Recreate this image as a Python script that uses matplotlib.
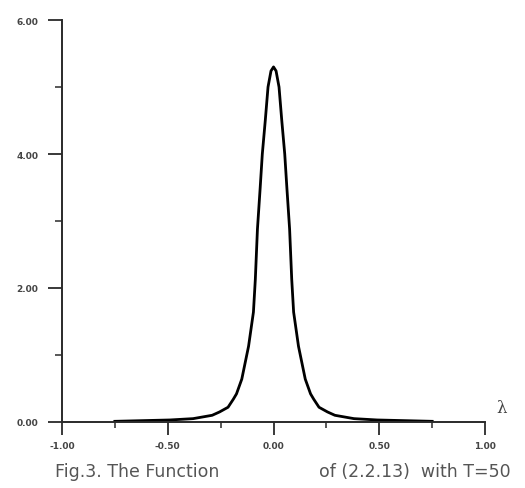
import matplotlib
matplotlib.use('Agg')
import matplotlib.pyplot as plt
from matplotlib.ticker import FixedLocator

# ── data ─────────────────────────────────────────────────────────────────
LAMBDA = [-0.75, -0.49, -0.38, -0.29, -0.255, -0.215, -0.19, -0.175,
          -0.150, -0.118, -0.095, -0.086, -0.076, -0.063, -0.053,
          -0.039, -0.026, -0.012, 0.0,
          0.012, 0.026, 0.039, 0.053, 0.063, 0.076, 0.086, 0.095, 0.118,
          0.150, 0.175, 0.19, 0.215, 0.255, 0.29, 0.38, 0.49, 0.75]
F_VALUES = [0.01, 0.03, 0.05, 0.10, 0.15, 0.22, 0.34, 0.42,
            0.64, 1.13, 1.64, 2.13, 2.88, 3.50, 4.00,
            4.50, 5.00, 5.24, 5.30,
            5.24, 5.00, 4.50, 4.00, 3.50, 2.88, 2.13, 1.64, 1.13,
            0.64, 0.42, 0.34, 0.22, 0.15, 0.10, 0.05, 0.03, 0.01]

X_MAJOR = [-1.0, -0.5, 0.0, 0.5, 1.0]
X_MINOR = [-0.75, -0.25, 0.25, 0.75]
Y_MAJOR = [0.0, 2.0, 4.0, 6.0]
Y_MINOR = [1.0, 3.0, 5.0]
CAPTION_LEFT = "Fig.3. The Function"
CAPTION_RIGHT = "of (2.2.13)  with T=50"
# ────────────────────────────────────────────────────────────────────────

AX_COL = "#2a2a2a"
TXT_COL = "#444444"

fig = plt.figure(figsize=(5.25, 4.89), dpi=100)
ax = fig.add_axes([0.118, 0.135, 0.806, 0.822])

ax.plot(LAMBDA, F_VALUES, color="black", linewidth=2.0,
        solid_joinstyle="round")

ax.set_xlim(-1.0, 1.0)
ax.set_ylim(0.0, 6.0)

for side in ("top", "right"):
    ax.spines[side].set_visible(False)
for side in ("left", "bottom"):
    ax.spines[side].set_color(AX_COL)
    ax.spines[side].set_linewidth(1.4)

ax.xaxis.set_major_locator(FixedLocator(X_MAJOR))
ax.xaxis.set_minor_locator(FixedLocator(X_MINOR))
ax.yaxis.set_major_locator(FixedLocator(Y_MAJOR))
ax.yaxis.set_minor_locator(FixedLocator(Y_MINOR))
ax.set_xticklabels([f"{v:.2f}" for v in X_MAJOR])
ax.set_yticklabels([f"{v:.2f}" for v in Y_MAJOR])

ax.tick_params(axis="x", which="major", direction="out", length=9,
               width=1.3, color=AX_COL, labelsize=6.5, labelcolor=TXT_COL, pad=5)
ax.tick_params(axis="x", which="minor", direction="out", length=4.5,
               width=1.1, color=AX_COL)
ax.tick_params(axis="y", which="major", direction="out", length=10,
               width=1.3, color=AX_COL, labelsize=6.5, labelcolor=TXT_COL, pad=7)
ax.tick_params(axis="y", which="minor", direction="out", length=5,
               width=1.1, color=AX_COL)

for lab in ax.get_xticklabels() + ax.get_yticklabels():
    lab.set_fontweight("bold")

fig.text(0.955, 0.165, "λ", fontsize=12, color=TXT_COL,
         family="DejaVu Serif", ha="center", va="center")

fig.text(0.105, 0.035, CAPTION_LEFT, fontsize=12.5, color="#555555",
         family="DejaVu Sans", ha="left", va="center")
fig.text(0.973, 0.035, CAPTION_RIGHT, fontsize=12.5, color="#555555",
         family="DejaVu Sans", ha="right", va="center")

fig.savefig("out.png", dpi=100)
